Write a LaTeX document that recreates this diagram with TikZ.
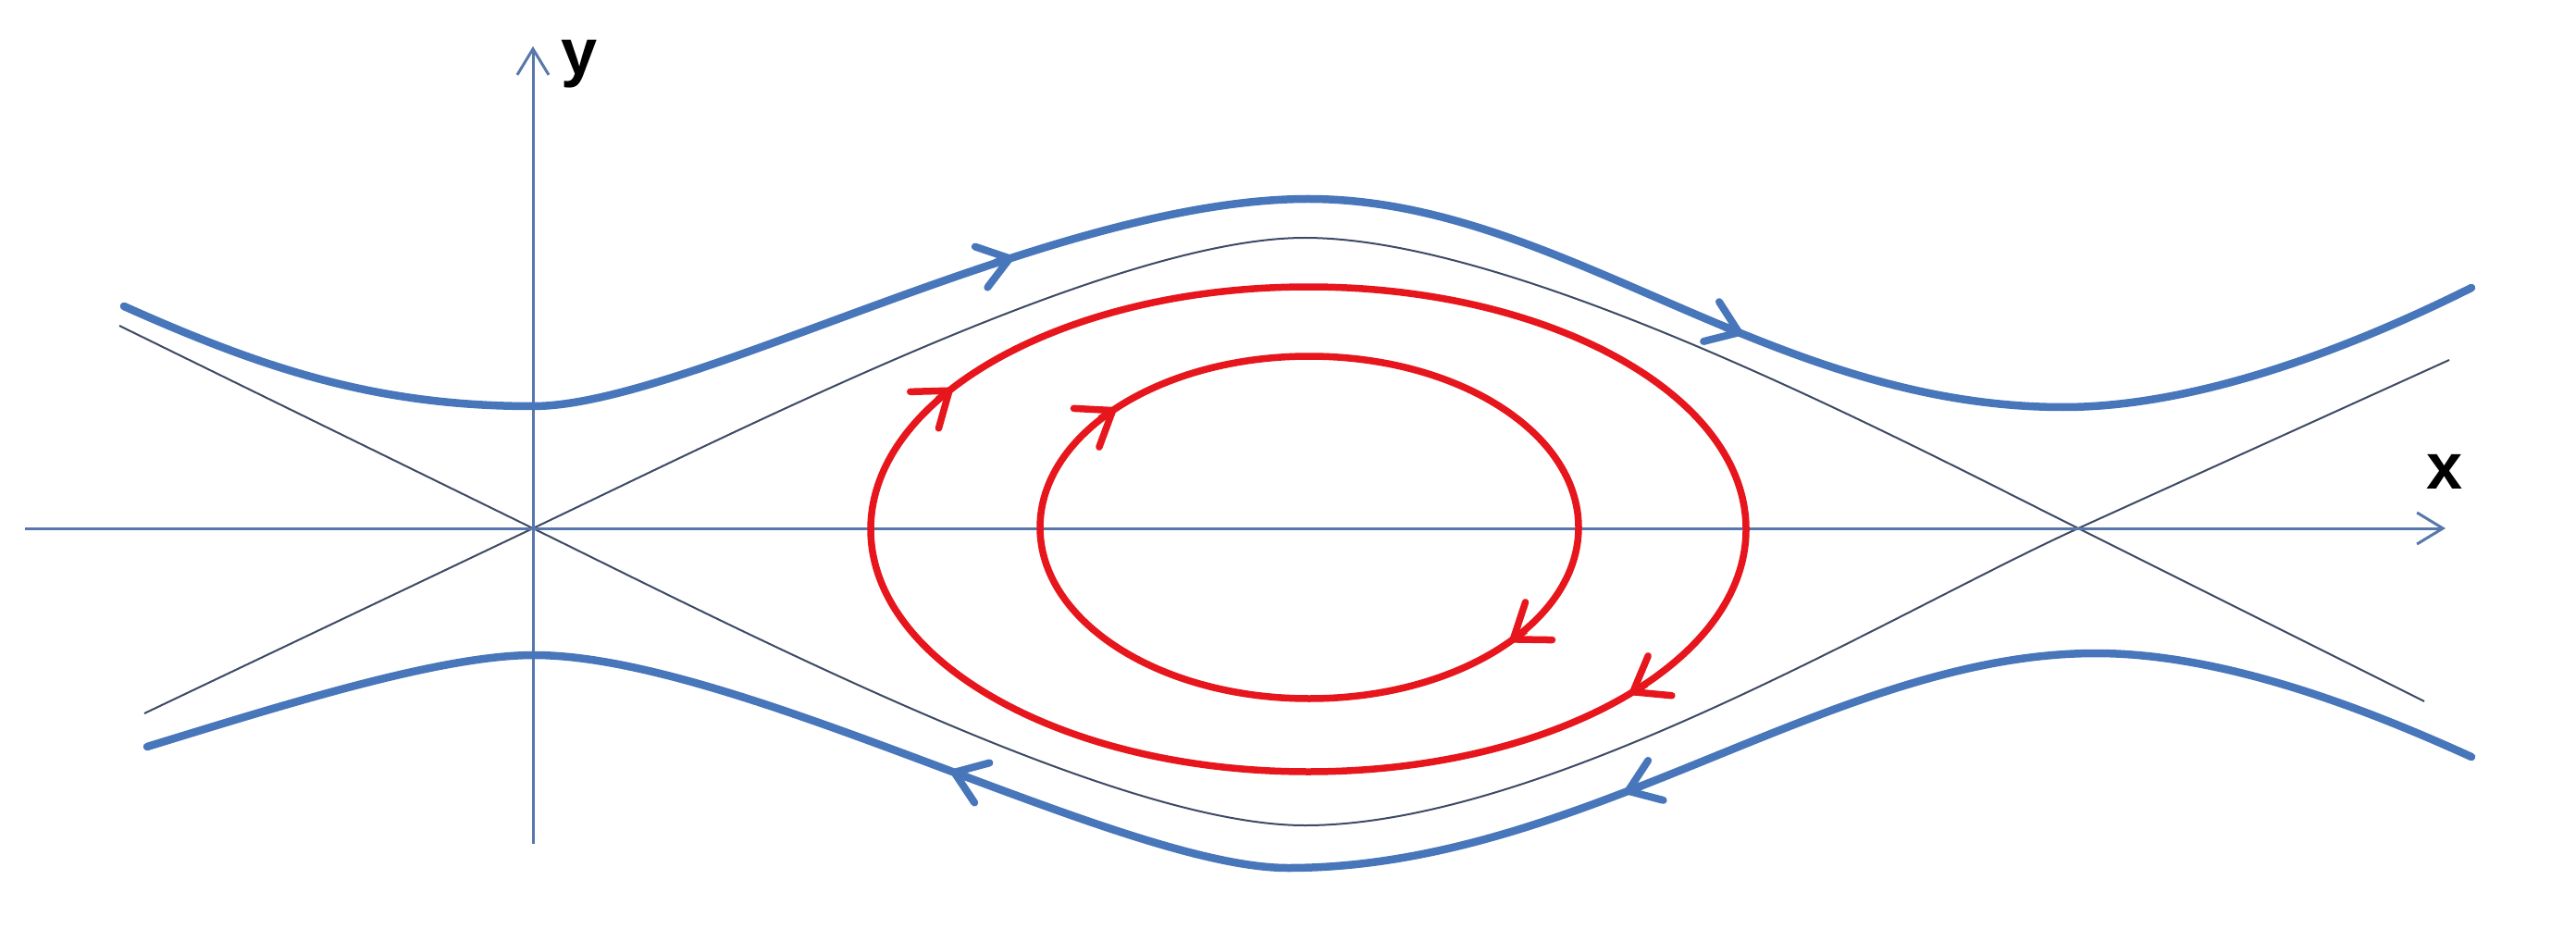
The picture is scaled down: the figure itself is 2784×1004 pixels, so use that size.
\documentclass[tikz,border=0pt]{standalone}
\usepackage{fontspec}
\setmainfont{Liberation Sans}
\usetikzlibrary{arrows.meta}
\definecolor{axiscol}{RGB}{88,120,172}
\definecolor{sepcol}{RGB}{62,74,102}
\definecolor{orbitblue}{RGB}{72,118,186}
\definecolor{cyclered}{RGB}{230,22,28}
\begin{document}
\begin{tikzpicture}[x=0.1mm,y=-0.1mm,
  axisline/.style={draw=axiscol, line width=0.3mm},
  axistip/.style={-{Straight Barb[length=2.8mm,width=3.4mm,line width=0.3mm]}},
  sepline/.style={draw=sepcol, line width=0.2mm},
  orbit/.style={draw=orbitblue, line width=0.85mm, line cap=round},
  bluetip/.style={-{Straight Barb[length=3.2mm,width=4.6mm,line width=0.8mm,round]}},
  limitcycle/.style={draw=cyclered, line width=0.75mm},
  redtip/.style={-{Straight Barb[length=3.4mm,width=5mm,line width=0.75mm,round]}},
  axislabel/.style={font=\fontsize{20}{20}\selectfont\bfseries, text=black, anchor=base, inner sep=0pt}]
\useasboundingbox (0,0) rectangle (2784,1004);
\fill[white] (0,0) rectangle (2784,1004);
% named points
\coordinate (O) at (576,571);
\coordinate (S) at (2246,571);
\coordinate (xstart) at (27,571);
\coordinate (xend) at (2643,571);
\coordinate (ystart) at (576,912);
\coordinate (yend) at (576,50);
% separatrices (thin)
\draw[sepline] (129,352) -- (O) .. controls (826,693.8) and (1211,892) .. (1410,892)
   .. controls (1670,892) and (2050,660) .. (S) -- (2647,389);
\draw[sepline] (156,771) -- (O) .. controls (826,451.7) and (1211,257) .. (1410,257)
   .. controls (1640,257) and (2046,471) .. (S) -- (2620,758);
% axes
\draw[axisline, axistip] (xstart) -- (xend);
\draw[axisline, axistip] (ystart) -- (yend);
\node[axislabel] (xlab) at (2642,528) {x};
\node[axislabel] (ylab) at (626,81) {y};
% open orbits
\draw[orbit] (134,331) .. controls (284,398) and (406,439) .. (576,439)
   .. controls (744,439) and (1137,215) .. (1414,215)
   .. controls (1686,215) and (1910,440) .. (2230,440)
   .. controls (2380,440) and (2551,371) .. (2671,311);
\draw[orbit] (159,807) .. controls (309,761) and (477,708) .. (577,708)
   .. controls (797,708) and (1213,938) .. (1392,938)
   .. controls (1712,938) and (1981,706) .. (2265,706)
   .. controls (2405,706) and (2561,768) .. (2671,818);
\draw[orbit, bluetip] (1076,283.9) -- (1095,278.1);
\draw[orbit, bluetip] (1864.5,353.5) -- (1883,360.8);
\draw[orbit, bluetip] (1045.4,840.0) -- (1027.6,833.3);
\draw[orbit, bluetip] (1773.5,849.5) -- (1755.8,856.3);
% closed orbits
\draw[limitcycle] (1414,572) ellipse [x radius=47.3mm, y radius=26.2mm];
\draw[limitcycle] (1415,570) ellipse [x radius=29.1mm, y radius=18.5mm];
\draw[limitcycle, redtip] (1013.1,432.2) -- (1028.9,419.9);
\draw[limitcycle, redtip] (1778.8,739.4) -- (1761.6,749.7);
\draw[limitcycle, redtip] (1189.0,452.5) -- (1205.7,441.5);
\draw[limitcycle, redtip] (1648.6,681.5) -- (1632.3,693.1);
\end{tikzpicture}
\end{document}
